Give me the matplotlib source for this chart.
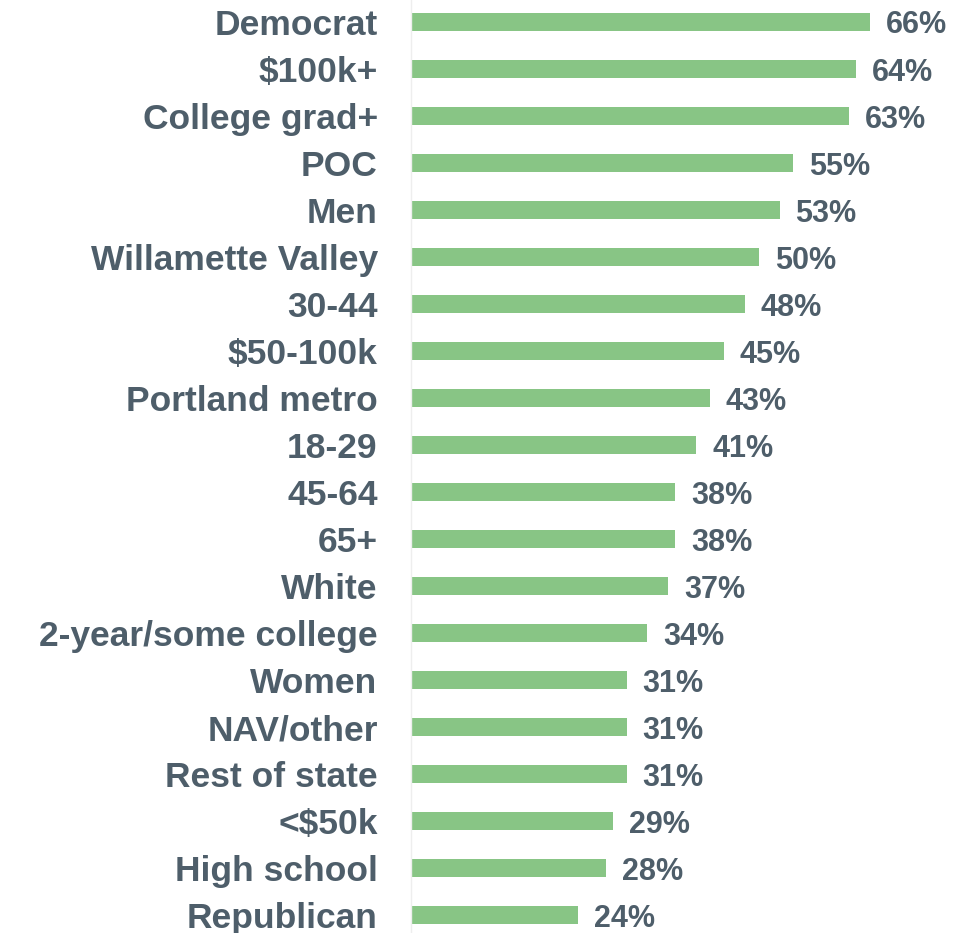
import matplotlib.pyplot as plt

plt.rc('font', family='Liberation Sans', weight='bold')

categories = ['Democrat', '$100k+', 'College grad+', 'POC', 'Men',
              'Willamette Valley', '30-44', '$50-100k', 'Portland metro',
              '18-29', '45-64', '65+', 'White', '2-year/some college',
              'Women', 'NAV/other', 'Rest of state', '<$50k', 'High school',
              'Republican']
values = [66, 64, 63, 55, 53, 50, 48, 45, 43, 41, 38, 38, 37, 34, 31, 31,
          31, 29, 28, 24]

text_color = '#4E5E6A'
bar_color = '#88C585'

fig = plt.figure(figsize=(9.68, 9.33), dpi=100)
ax = fig.add_axes([411/968, 0, 1 - 411/968, 1])

pos = list(range(len(categories)))
ax.barh(pos, values, height=0.38, color=bar_color)
for p, v in zip(pos, values):
    ax.annotate(f'{v}%', (v, p), xytext=(11.5, 0), textcoords='offset points',
                va='center_baseline', ha='left', fontsize=22,
                color=text_color, fontweight='bold')

ax.set_xlim(0, 80.1)
ax.set_ylim(19.38, -0.468)
ax.set_yticks(pos)
ax.set_yticklabels(categories, fontsize=25.5, color=text_color,
                   fontweight='bold')
ax.tick_params(axis='y', length=0, pad=24)
ax.set_xticks([])
for s in ['top', 'right', 'bottom']:
    ax.spines[s].set_visible(False)
ax.spines['left'].set_color('#EEEEEE')
ax.spines['left'].set_linewidth(1)

fig.savefig('out.png', dpi=100)
